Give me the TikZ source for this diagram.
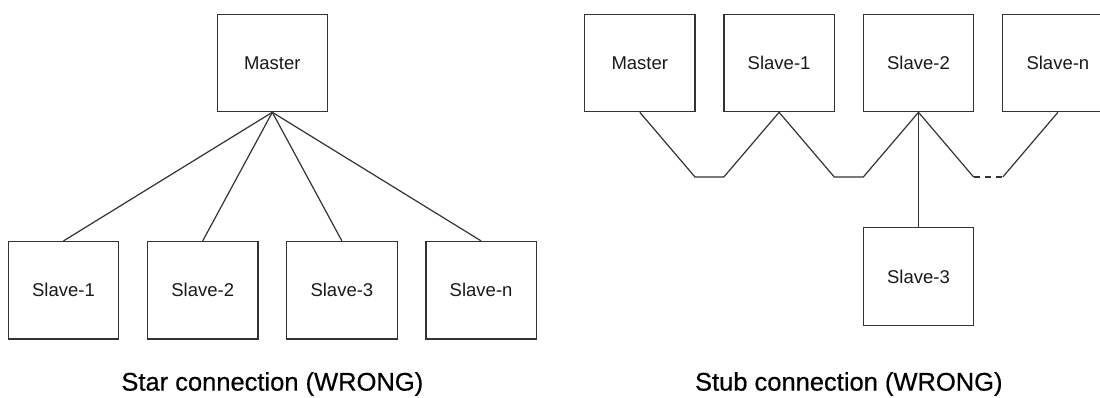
\documentclass[tikz,border=0pt]{standalone}
\usepackage{fontspec}
\setmainfont{Liberation Sans}
\newfontfamily\titlefont[FakeBold=0.5]{Liberation Sans}
\begin{document}
\begin{tikzpicture}[x=1pt,y=-1pt,
  box/.style={draw=black!80,line width=1.2pt,rectangle,inner sep=0pt,
    minimum width=110.4pt,minimum height=97.4pt,
    font=\fontsize{18.5}{20}\selectfont,text=black!90},
  wire/.style={draw=black!80,line width=1.2pt},
  title/.style={font=\titlefont\fontsize{25.5}{28}\selectfont,text=black,inner sep=0pt}]
\useasboundingbox (0,0) rectangle (1100,397);
\clip (0,0) rectangle (1100,397);
% Star connection
\node[box] (lm) at (272.3,63) {Master};
\node[box] (ls1) at (63.5,290.2) {Slave-1};
\node[box] (ls2) at (202.7,290.2) {Slave-2};
\node[box] (ls3) at (341.9,290.2) {Slave-3};
\node[box] (lsn) at (481.1,290.2) {Slave-n};
\draw[wire] (lm.south) -- (ls1.north);
\draw[wire] (lm.south) -- (ls2.north);
\draw[wire] (lm.south) -- (ls3.north);
\draw[wire] (lm.south) -- (lsn.north);
\node[title] (t1) at (272.3,384) {Star connection (WRONG)};
% Stub connection
\node[box] (rm) at (639.8,63) {Master};
\node[box] (rs1) at (779.1,63) {Slave-1};
\node[box] (rs2) at (918.5,63) {Slave-2};
\node[box] (rsn) at (1057.9,63) {Slave-n};
\node[box] (rs3) at (918.5,276.5) {Slave-3};
\coordinate (a1) at (695,177);
\coordinate (a2) at (723.8,177);
\coordinate (b1) at (834.3,177);
\coordinate (b2) at (863.3,177);
\coordinate (c1) at (973.6,177);
\coordinate (c2) at (1002.8,177);
\draw[wire,line join=miter] (rm.south) -- (a1) -- (a2) -- (rs1.south) -- (b1) -- (b2) -- (rs2.south) -- (c1);
\draw[wire,dash pattern=on 6pt off 5pt] (c1) -- (c2);
\draw[wire] (c2) -- (rsn.south);
\draw[wire] (rs2.south) -- (rs3.north);
\node[title] (t2) at (848.8,384) {Stub connection (WRONG)};
\end{tikzpicture}
\end{document}
